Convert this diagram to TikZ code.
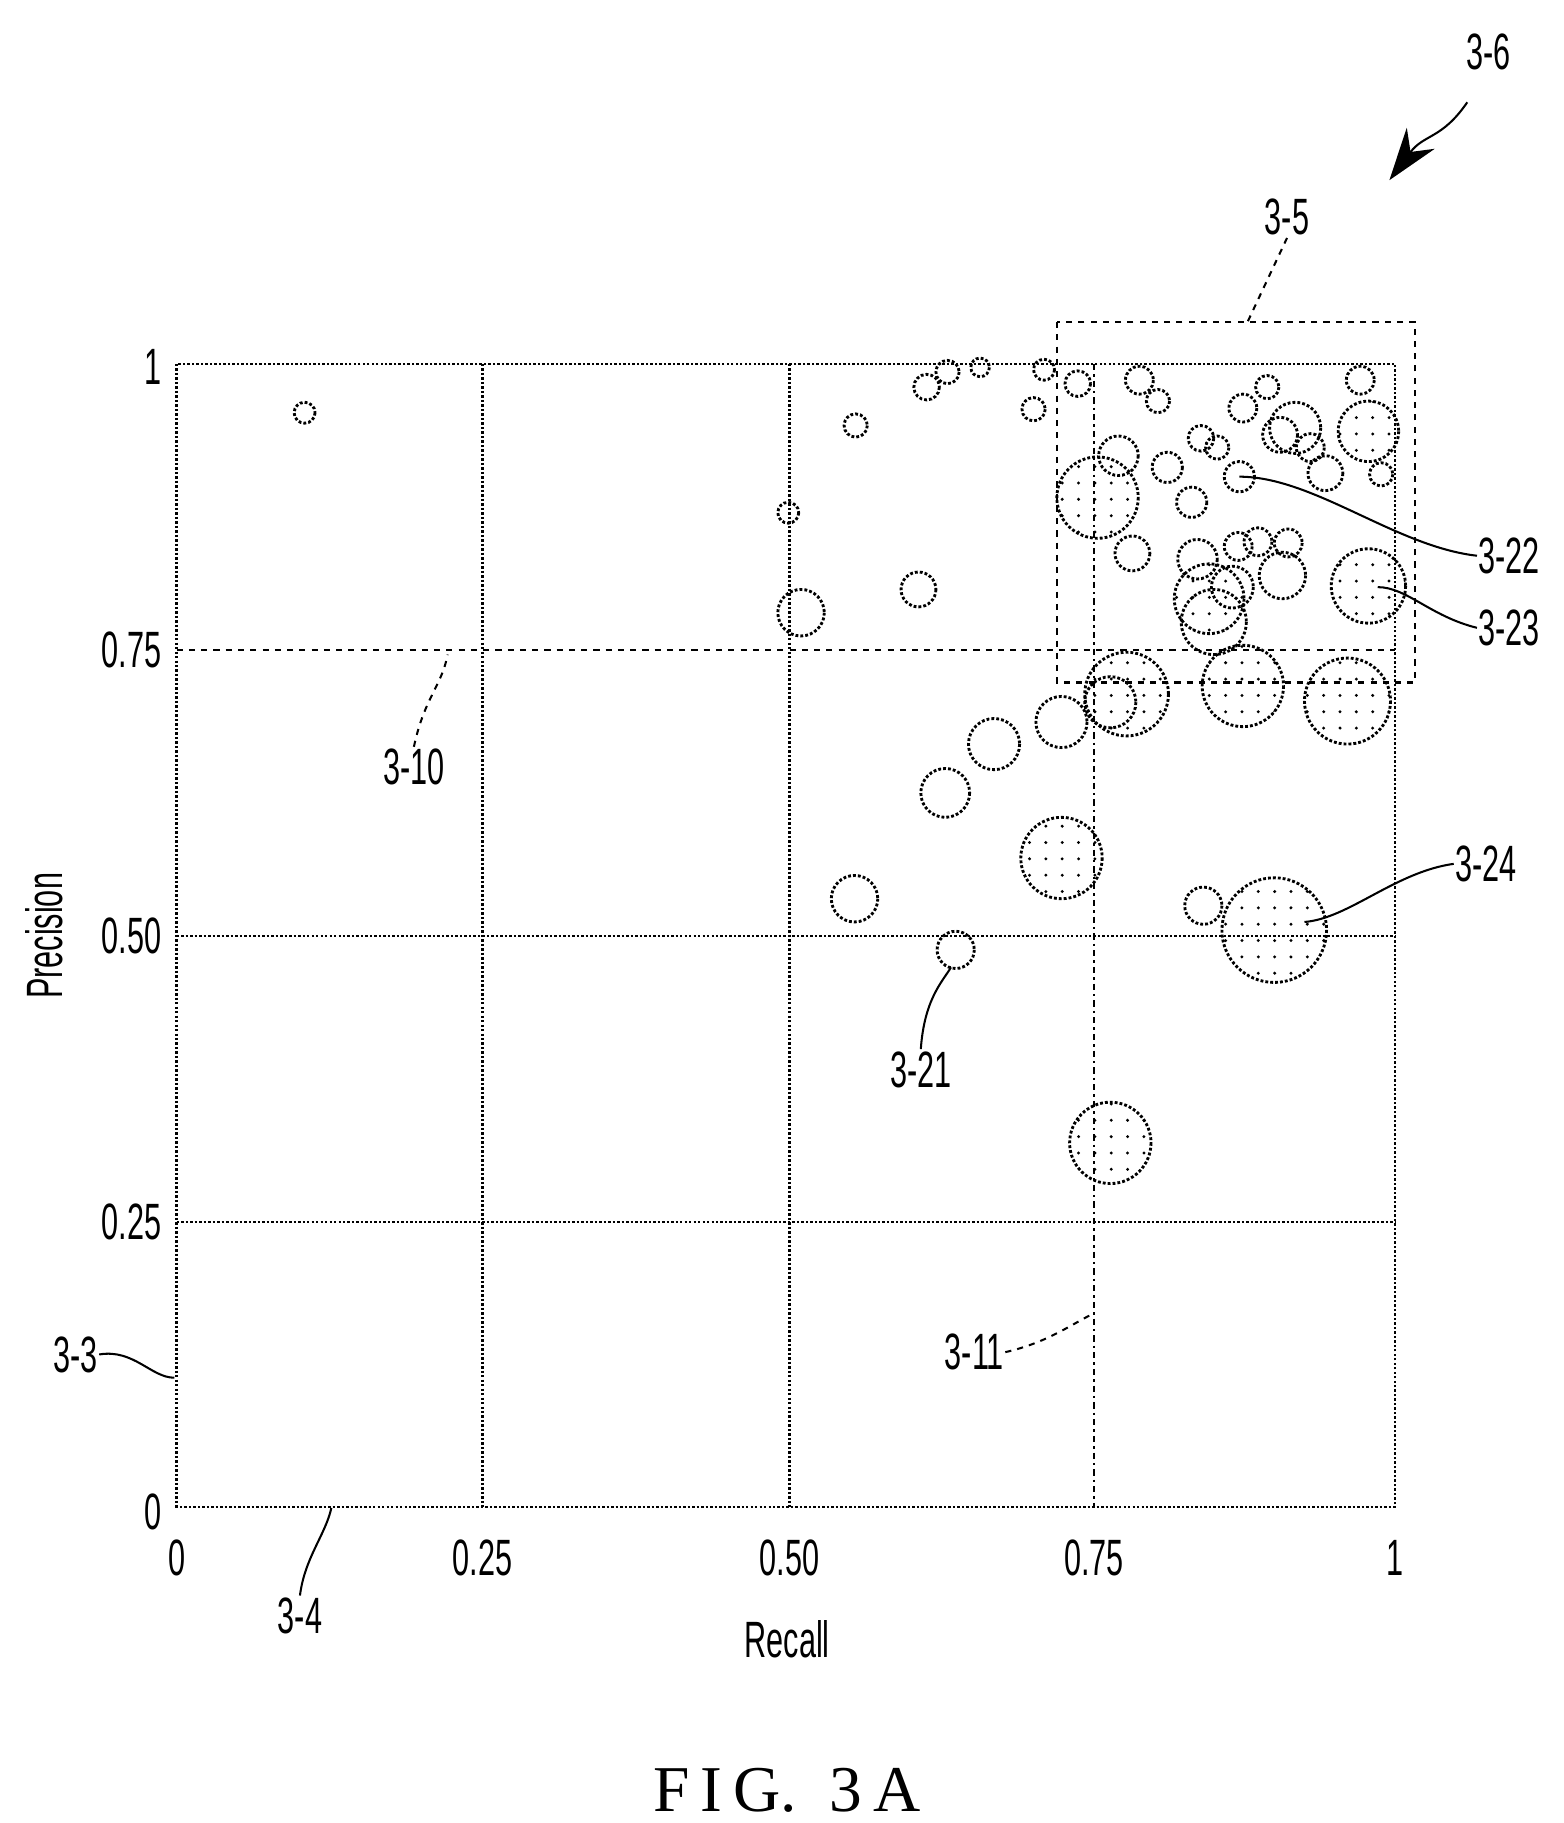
\documentclass[tikz,border=0pt]{standalone}
\usepackage{fontspec}
\setmainfont{Liberation Sans}
\newfontfamily\figfont{Liberation Serif}
\usetikzlibrary{arrows.meta, patterns.meta}

\begin{document}
\begin{tikzpicture}[
  x=0.02cm, y=-0.02cm,
  lbl/.style={font=\fontsize{25}{27}\selectfont, xscale=0.6, inner sep=1pt},
  grid line/.style={draw, line width=1.2pt, densely dotted},
  blob/.style={draw, line width=1.4pt, densely dotted},
  dotblob/.style={blob, pattern={Dots[radius=0.8pt, distance=8pt]}},
  leader/.style={line width=1pt},
  dleader/.style={line width=1pt, dashed}
]
\useasboundingbox (0,0) rectangle (1345,1568);

% ===== Axes and grid =====
\draw[grid line] (152,313) rectangle (1200,1296);
\draw[grid line] (415,313) -- (415,1296);
\draw[grid line] (679,313) -- (679,1296);
\draw[grid line] (152,805) -- (1200,805);
\draw[grid line] (152,1051) -- (1200,1051);
\draw[line width=1.2pt, dashed] (152,559) -- (1200,559);
\draw[line width=1.2pt, dash dot] (941,313) -- (941,1296);

% ===== Region 3-5 =====
\draw[line width=1.2pt, dashed] (909,277) rectangle (1217,587);

% ===== Data points =====
\foreach \x/\y/\r in {262/355/9, 736/366/10, 678/441/9, 689/527/20, 790/507/15,
  797/333/11, 815/320/10, 843/316/8, 889/352/10, 898/318/9, 927/330/11,
  962/392/17, 974/476/15, 980/327/12, 996/345/10, 1004/402/13, 1025/432/13,
  1033/377/11, 1047/385/10, 1069/351/12, 1066/410/13, 1090/333/10, 1114/368/22,
  1101/374/15, 1127/385/12, 1140/407/15, 1170/327/12, 1188/408/10,
  1030/481/17, 1060/505/18, 1065/470/12, 1082/466/12, 1108/467/12, 1103/495/20,
  1044/535/28, 955/604/22, 913/621/22, 855/640/22, 813/682/21, 735/773/20,
  1035/779/16, 822/817/16}
  \draw[blob] (\x,\y) circle[radius=\r];
\foreach \x/\y/\r in {944/428/35, 1177/371/26, 1040/515/30, 1177/504/32,
  969/597/36, 1069/590/35, 1159/603/37, 913/738/35, 1096/800/45, 955/983/35}
  \draw[dotblob] (\x,\y) circle[radius=\r];

% ===== Tick labels =====
\foreach \t/\y in {1/316, 0.75/559, 0.50/805, 0.25/1051, 0/1300}
  \node[lbl, anchor=east] at (140,\y) {\t};
\foreach \t/\x in {0/152, 0.25/415, 0.50/679, 0.75/941, 1/1200}
  \node[lbl] at (\x,1340) {\t};
\node[lbl] (recall) at (677,1410) {Recall};
\node[font=\fontsize{25}{27}\selectfont, rotate=90, inner sep=1pt] (precision) at (38,805) {\scalebox{0.6}[1]{Precision}};

% ===== Reference numerals =====
\node[lbl] (n36) at (1280,45) {3-6};
\node[lbl] (n35) at (1107,187) {3-5};
\node[lbl] (n322) at (1298,478) {3-22};
\node[lbl] (n323) at (1298,540) {3-23};
\node[lbl] (n324) at (1278,743) {3-24};
\node[lbl] (n321) at (792,920) {3-21};
\node[lbl] (n310) at (356,660) {3-10};
\node[lbl] (n311) at (838,1163) {3-11};
\node[lbl] (n33) at (65,1165) {3-3};
\node[lbl] (n34) at (258,1390) {3-4};
\coordinate (t36) at (1195,155);
\coordinate (t35) at (1073,277);
\coordinate (t322) at (1066,410);
\coordinate (t323) at (1185,505);
\coordinate (t324) at (1122,793);
\coordinate (t321) at (818,832);
\coordinate (t310) at (385,563);
\coordinate (t311) at (940,1130);
\coordinate (t33) at (150,1185);
\coordinate (t34) at (285,1297);

\draw[leader, -{Stealth[length=9mm, width=6mm]}] (1262,88) .. controls (1240,120) and (1225,115) .. (t36);
\draw[dleader] (n35.south) .. controls (1090,240) .. (t35);
\draw[leader] (n322.west) .. controls (1200,470) and (1130,410) .. (t322);
\draw[leader] (n323.west) .. controls (1230,530) and (1210,505) .. (t323);
\draw[leader] (n324.west) .. controls (1200,750) and (1160,790) .. (t324);
\draw[leader] (n321.north) .. controls (795,860) and (810,845) .. (t321);
\draw[dleader] (n310.north) .. controls (365,600) and (380,590) .. (t310);
\draw[dleader] (n311.east) .. controls (900,1155) and (920,1140) .. (t311);
\draw[leader] (n33.east) .. controls (115,1160) and (130,1185) .. (t33);
\draw[leader] (n34.north) .. controls (262,1340) and (280,1320) .. (t34);

% ===== Caption =====
\node[font=\figfont\fontsize{32}{34}\selectfont] (caption) at (677,1540) {F\,I\,G.\ \ 3\,A};
\end{tikzpicture}
\end{document}
